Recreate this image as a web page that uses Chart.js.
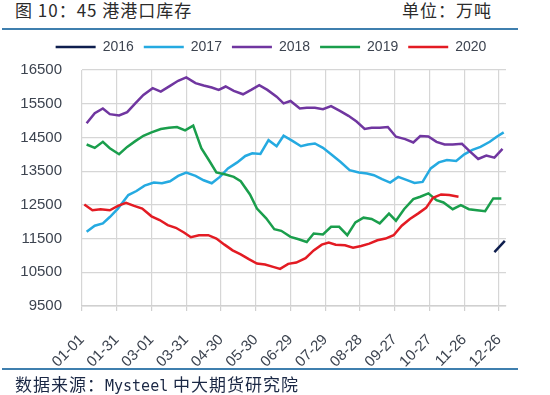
<!DOCTYPE html>
<html>
<head>
<meta charset="utf-8">
<script src="https://cdn.jsdelivr.net/npm/chart.js@4"></script>
<style>
  body { margin: 0; background: #fff; }
  #wrap { position: relative; width: 550px; height: 395px; background: #fff; overflow: hidden; }
  #chart { position: absolute; left: 0; top: 0; }
  .hdr { position: absolute; top: 0; font: 17px/20px "Noto Sans CJK SC", sans-serif; color: #2b2b2b; letter-spacing: 1px; }
  .rule { position: absolute; left: 2px; width: 516px; height: 2px; background: #3f7fae; }
  .src { position: absolute; left: 15px; top: 374px; font: 17px/20px "Noto Sans CJK SC", sans-serif; color: #1b2845; letter-spacing: 1px; }
  .mono { font: 15px "DejaVu Sans Mono", monospace; letter-spacing: 0; }
</style>
</head>
<body>
<div id="wrap">
  <div class="hdr" style="left:15px">图 10：45 港港口库存</div>
  <div class="hdr" style="right:58px">单位：万吨</div>
  <div class="rule" style="top:28px"></div>
  <canvas id="chart" width="550" height="395"></canvas>
  <div class="rule" style="top:368px"></div>
  <div class="src">数据来源：<span class="mono">Mysteel</span> 中大期货研究院</div>
</div>

<script>
// ---- data (x = day of year, y = 万吨) ----
const tickDays = [0, 30, 60, 90, 120, 150, 180, 210, 240, 270, 300, 330, 360];
const yTicks = [9500, 10500, 11500, 12500, 13500, 14500, 15500, 16500];

const days2016 = [356, 365];
const vals2016 = [11100, 11430];

const days2017 = [4, 11, 18, 24, 31, 40, 47, 54, 62, 69, 76, 83, 90, 98, 105, 112, 119, 126, 134, 141, 147, 154, 161, 168, 174, 182, 189, 195, 201, 208, 215, 223, 231, 239, 246, 252, 259, 266, 273, 280, 287, 294, 301, 308, 315, 323, 330, 337, 344, 352, 358, 364];
const vals2017 = [11700, 11880, 11950, 12140, 12390, 12790, 12910, 13070, 13160, 13140, 13200, 13360, 13460, 13360, 13230, 13140, 13330, 13580, 13760, 13950, 14030, 14010, 14420, 14240, 14550, 14390, 14240, 14290, 14320, 14190, 14000, 13780, 13530, 13460, 13430, 13380, 13260, 13160, 13330, 13240, 13150, 13180, 13580, 13760, 13830, 13800, 14000, 14130, 14220, 14370, 14520, 14650];

const days2018 = [4, 11, 18, 24, 32, 39, 46, 53, 61, 68, 76, 83, 90, 98, 105, 112, 118, 124, 131, 139, 146, 153, 160, 168, 174, 180, 188, 194, 201, 208, 215, 223, 230, 237, 244, 250, 257, 264, 271, 279, 286, 292, 299, 306, 313, 320, 328, 335, 342, 349, 356, 363];
const vals2018 = [14920, 15220, 15360, 15190, 15150, 15250, 15510, 15760, 15960, 15860, 16030, 16180, 16280, 16110, 16040, 15980, 15910, 16010, 15880, 15780, 15910, 16050, 15910, 15710, 15510, 15580, 15360, 15380, 15380, 15340, 15430, 15280, 15140, 14970, 14750, 14790, 14790, 14810, 14520, 14450, 14350, 14540, 14530, 14370, 14290, 14290, 14310, 14080, 13860, 13960, 13900, 14160];

const days2019 = [4, 11, 18, 24, 32, 39, 46, 53, 60, 68, 75, 82, 89, 96, 103, 110, 116, 124, 131, 137, 145, 151, 159, 166, 172, 180, 187, 194, 200, 208, 215, 222, 229, 236, 243, 250, 257, 265, 271, 278, 286, 292, 299, 306, 312, 320, 327, 334, 341, 348, 355, 362];
const vals2019 = [14290, 14190, 14370, 14180, 14000, 14220, 14390, 14550, 14650, 14750, 14790, 14810, 14710, 14850, 14180, 13800, 13460, 13400, 13330, 13200, 12810, 12390, 12100, 11780, 11730, 11550, 11480, 11400, 11650, 11620, 11850, 11850, 11600, 11980, 12120, 12080, 11950, 12240, 12030, 12370, 12670, 12740, 12840, 12640, 12570, 12370, 12490, 12370, 12340, 12310, 12690, 12690];

const days2020 = [2, 9, 16, 24, 31, 38, 45, 52, 60, 67, 74, 81, 88, 94, 101, 109, 116, 123, 130, 137, 144, 151, 158, 165, 171, 178, 185, 193, 200, 207, 213, 219, 227, 234, 241, 248, 255, 262, 269, 276, 283, 290, 297, 303, 310, 317, 325];
const vals2020 = [12510, 12340, 12370, 12340, 12470, 12560, 12470, 12390, 12160, 12050, 11900, 11820, 11680, 11540, 11600, 11600, 11500, 11320, 11150, 11030, 10890, 10760, 10730, 10660, 10600, 10750, 10790, 10920, 11150, 11320, 11380, 11320, 11300, 11230, 11280, 11350, 11450, 11500, 11600, 11880, 12080, 12240, 12410, 12710, 12810, 12790, 12740];

function points(days, vals) {
  return days.map((d, i) => ({ x: d, y: vals[i] }));
}

// day of year -> "MM-DD" (leap-year calendar, as in the source axis)
function dayLabel(d) {
  const dt = new Date(2020, 0, 1 + d);
  const mm = String(dt.getMonth() + 1).padStart(2, "0");
  const dd = String(dt.getDate()).padStart(2, "0");
  return mm + "-" + dd;
}

function series(label, days, vals, color, order) {
  return {
    label: label,
    data: points(days, vals),
    borderColor: color,
    backgroundColor: color,
    borderWidth: 2.5,
    pointRadius: 0,
    tension: 0,
    order: order,
  };
}

// legend: a bit more room below it, and centred a little right of the canvas middle
const legendTweak = {
  id: "legendTweak",
  beforeInit(chart) {
    const fit = chart.legend.fit;
    chart.legend.fit = function () {
      fit.call(this);
      this.height += 6;
    };
  },
  afterLayout(chart) {
    chart.legend.left += 18;
    chart.legend.right += 18;
  },
};

Chart.defaults.font.family = "'Liberation Sans', Arial, sans-serif";
Chart.defaults.color = "#3d4450";

new Chart(document.getElementById("chart"), {
  type: "line",
  data: {
    datasets: [
      series("2016", days2016, vals2016, "#0e1e4e", 5),
      series("2017", days2017, vals2017, "#25aae1", 4),
      series("2018", days2018, vals2018, "#7036a0", 3),
      series("2019", days2019, vals2019, "#1a9e4c", 2),
      series("2020", days2020, vals2020, "#e31b23", 1),
    ],
  },
  options: {
    responsive: false,
    animation: false,
    devicePixelRatio: 1,
    layout: { padding: { top: 30, left: 0, right: 44, bottom: 19 } },
    plugins: {
      tooltip: { enabled: false },
      legend: {
        position: "top",
        labels: {
          // zero-height box stroked with the line width -> a 40px line sample
          boxWidth: 40,
          boxHeight: 0,
          padding: 10,
          color: "#3d4450",
          font: { size: 14 },
          sort: (a, b) => a.datasetIndex - b.datasetIndex,
        },
      },
    },
    scales: {
      x: {
        type: "linear",
        min: 0,
        max: 366,
        afterBuildTicks: (s) => { s.ticks = tickDays.map((v) => ({ value: v })); },
        afterFit: (s) => { s.height = 70; },
        grid: {
          color: "#d6d6d6",
          lineWidth: 1.2,
          borderDash: [7, 4],
          tickLength: 5,
          tickColor: "#d0d0d0",
        },
        border: { display: true, color: "#d0d0d0", width: 1.5 },
        ticks: {
          autoSkip: false,
          minRotation: 45,
          maxRotation: 45,
          padding: 20,
          font: { size: 15 },
          callback: (v) => dayLabel(v),
        },
      },
      y: {
        min: 9500,
        max: 16500,
        afterBuildTicks: (s) => { s.ticks = yTicks.map((v) => ({ value: v })); },
        afterFit: (s) => { s.width = 82; },
        grid: {
          color: "#d6d6d6",
          lineWidth: 1.2,
          borderDash: [7, 4],
          drawTicks: false,
        },
        border: { display: false },
        ticks: { padding: 20, font: { size: 15 }, callback: (v) => String(v) },
      },
    },
  },
  plugins: [legendTweak],
});
</script>
</body>
</html>
